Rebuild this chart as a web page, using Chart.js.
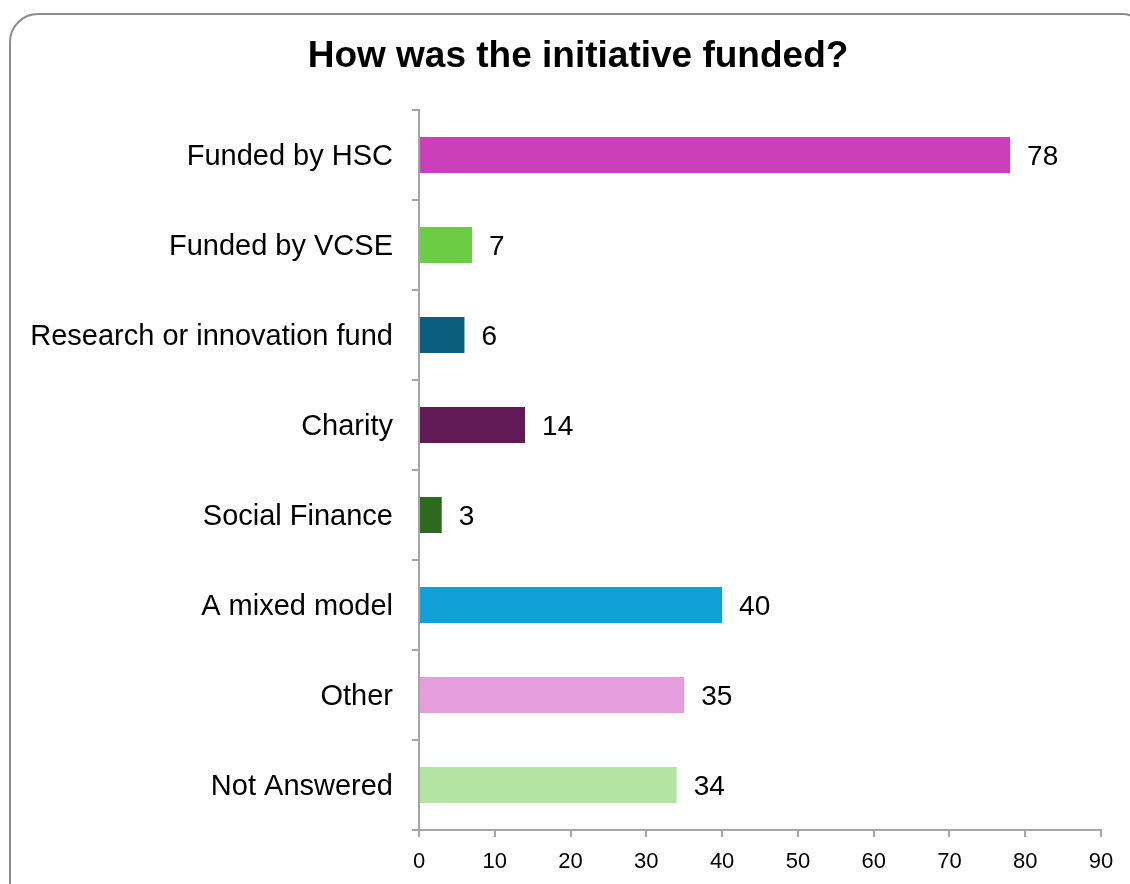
<!DOCTYPE html>
<html lang="en">
<head>
    <meta charset="UTF-8">
    <title>How was the initiative funded?</title>
    <script src="https://cdn.jsdelivr.net/npm/chart.js"></script>
    <style>
        body {
            margin: 0;
            padding: 0;
            background: #ffffff;
        }

        canvas {
            display: block;
        }
    </style>
</head>
<body>
    <canvas id="fundingChart" width="1130" height="884"></canvas>

    <script>
        // Survey answers and counts
        const categories = [
            'Funded by HSC',
            'Funded by VCSE',
            'Research or innovation fund',
            'Charity',
            'Social Finance',
            'A mixed model',
            'Other',
            'Not Answered'
        ];
        const counts = [78, 7, 6, 14, 3, 40, 35, 34];
        const barColors = [
            '#CB3FBB',
            '#6CCC44',
            '#0B5E7E',
            '#621A56',
            '#2D6A1E',
            '#109FD6',
            '#E49EDC',
            '#B4E4A2'
        ];
        const xTicks = [0, 10, 20, 30, 40, 50, 60, 70, 80, 90];
        const chartTitle = 'How was the initiative funded?';

        const fontFamily = '"Liberation Sans", Arial, sans-serif';
        const axisGray = '#a6a6a6';

        // Rounded frame plus the title, centred on the frame rather than the canvas
        const framePlugin = {
            id: 'frame',
            beforeDraw(chart) {
                const c = chart.ctx;
                c.save();
                c.strokeStyle = '#8c8c8c';
                c.lineWidth = 2;
                c.beginPath();
                c.roundRect(10, 14, 1140, 900, 28);
                c.stroke();

                c.font = 'bold 37px ' + fontFamily;
                c.fillStyle = '#000000';
                c.textAlign = 'center';
                c.textBaseline = 'middle';
                c.fillText(chartTitle, 578, 57);
                c.restore();
            }
        };

        // Count written just past the end of each bar
        const valueLabels = {
            id: 'valueLabels',
            afterDatasetsDraw(chart) {
                const c = chart.ctx;
                const meta = chart.getDatasetMeta(0);
                c.save();
                c.font = '28px ' + fontFamily;
                c.fillStyle = '#000000';
                c.textAlign = 'left';
                c.textBaseline = 'middle';
                meta.data.forEach((bar, i) => {
                    c.fillText(String(counts[i]), bar.x + 17, bar.y + 2);
                });
                c.restore();
            }
        };

        const ctx = document.getElementById('fundingChart').getContext('2d');

        new Chart(ctx, {
            type: 'bar',
            data: {
                labels: categories,
                datasets: [{
                    data: counts,
                    backgroundColor: barColors,
                    borderWidth: 0,
                    barPercentage: 0.4,
                    categoryPercentage: 1
                }]
            },
            options: {
                indexAxis: 'y',
                responsive: false,
                animation: false,
                layout: {
                    padding: { left: 0, right: 29, top: 110, bottom: 0 }
                },
                plugins: {
                    legend: { display: false },
                    tooltip: { enabled: false },
                    title: { display: false }
                },
                scales: {
                    x: {
                        min: 0,
                        max: 90,
                        afterFit(scale) { scale.height = 54; },
                        afterBuildTicks(scale) {
                            scale.ticks = xTicks.map(v => ({ value: v }));
                        },
                        border: { color: axisGray, width: 2 },
                        grid: {
                            drawOnChartArea: false,
                            color: axisGray,
                            lineWidth: 2,
                            tickLength: 7
                        },
                        ticks: {
                            color: '#000000',
                            padding: 12,
                            font: { family: fontFamily, size: 22 }
                        }
                    },
                    y: {
                        afterFit(scale) { scale.width = 419; },
                        border: { color: axisGray, width: 2 },
                        grid: {
                            offset: true,
                            drawOnChartArea: false,
                            color: axisGray,
                            lineWidth: 2,
                            tickLength: 7
                        },
                        ticks: {
                            color: '#000000',
                            padding: 19,
                            labelOffset: 2,
                            font: { family: fontFamily, size: 29 }
                        }
                    }
                }
            },
            plugins: [framePlugin, valueLabels]
        });
    </script>
</body>
</html>
